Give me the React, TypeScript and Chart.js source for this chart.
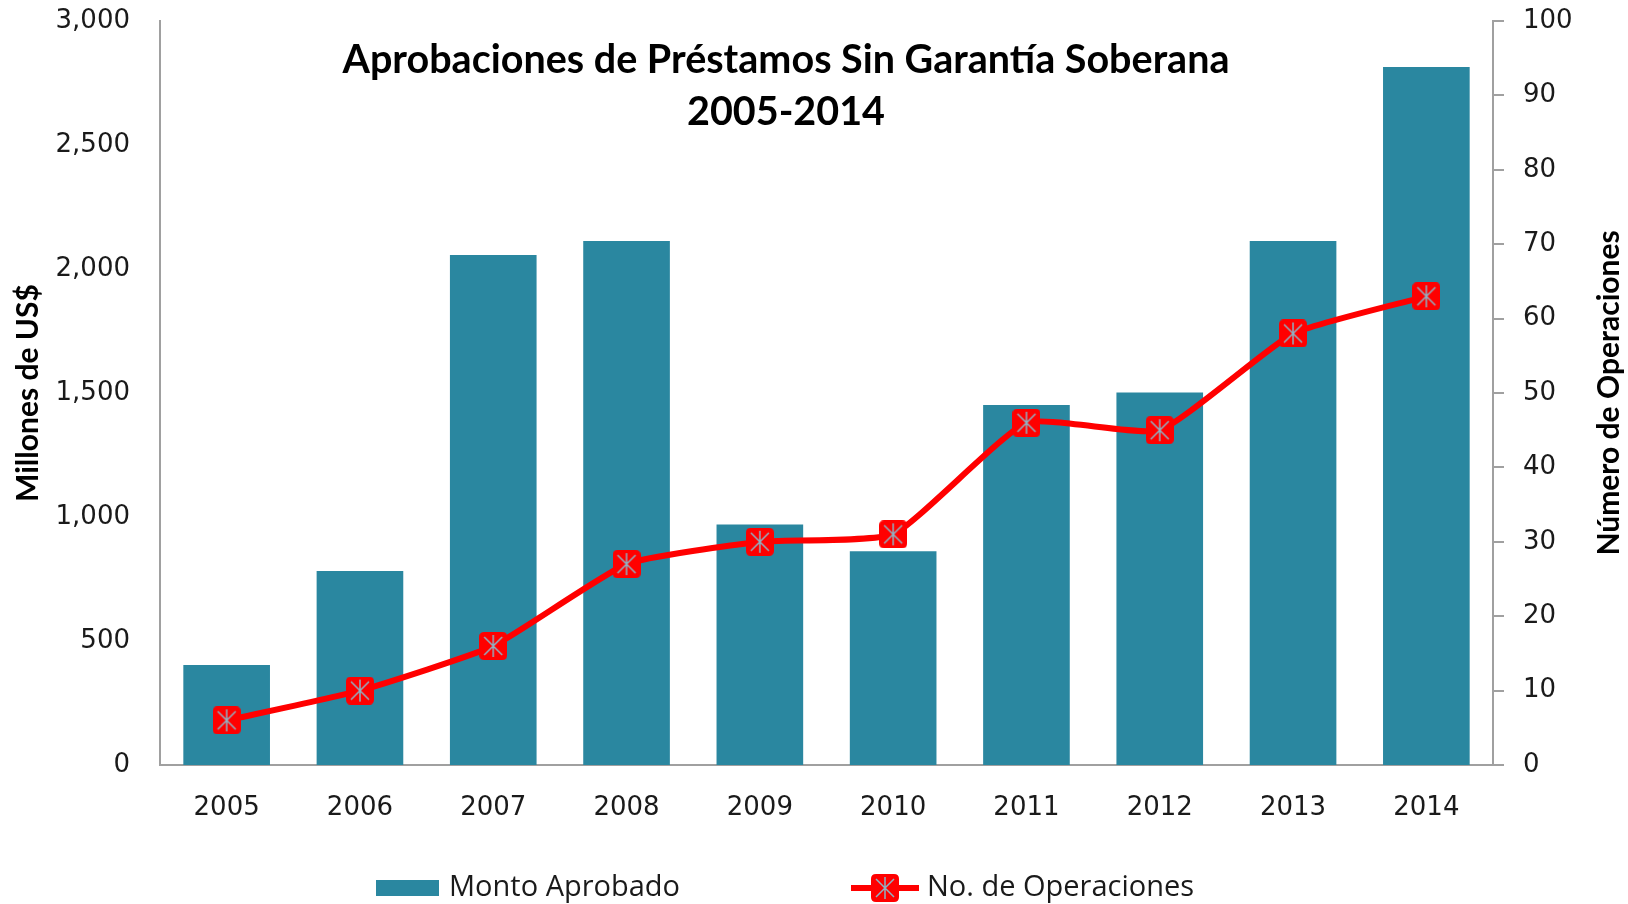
import React, { useEffect, useRef } from "react";
import { Chart, registerables } from "chart.js";

Chart.register(...registerables);

const years = ["2005", "2006", "2007", "2008", "2009", "2010", "2011", "2012", "2013", "2014"];
const montoAprobado = [403, 782, 2056, 2113, 970, 862, 1452, 1502, 2113, 2815];
const numOperaciones = [6, 10, 16, 27, 30, 31, 46, 45, 58, 63];
const titleLines = ["Aprobaciones de Préstamos Sin Garantía Soberana", "2005-2014"];
const leftAxisTitle = "Millones de US$";
const rightAxisTitle = "Número de Operaciones";
const seriesLabels = ["Monto Aprobado", "No. de Operaciones"];

const BAR_COLOR = "#2A87A0";
const LINE_COLOR = "#FF0000";
const AXIS_COLOR = "#A0A0A0";
const TEXT_COLOR = "#1a1a1a";

function makeMarker(): HTMLCanvasElement {
  const s = 28;
  const c = document.createElement("canvas");
  c.width = s;
  c.height = s;
  const g = c.getContext("2d")!;
  const r = 5;
  g.fillStyle = LINE_COLOR;
  g.beginPath();
  g.moveTo(r, 0);
  g.lineTo(s - r, 0);
  g.quadraticCurveTo(s, 0, s, r);
  g.lineTo(s, s - r);
  g.quadraticCurveTo(s, s, s - r, s);
  g.lineTo(r, s);
  g.quadraticCurveTo(0, s, 0, s - r);
  g.lineTo(0, r);
  g.quadraticCurveTo(0, 0, r, 0);
  g.fill();
  g.strokeStyle = "#8FB3C4";
  g.lineWidth = 1.5;
  g.beginPath();
  g.moveTo(s / 2, 3);
  g.lineTo(s / 2, s - 3);
  g.moveTo(5, 5);
  g.lineTo(s - 5, s - 5);
  g.moveTo(s - 5, 5);
  g.lineTo(5, s - 5);
  g.stroke();
  return c;
}

export default function App() {
  const ref = useRef<HTMLCanvasElement>(null);

  useEffect(() => {
    const canvas = ref.current!;
    const marker = makeMarker();

    const overlay = {
      id: "overlay",
      afterDraw(chart: any) {
        const ctx = chart.ctx as CanvasRenderingContext2D;
        const area = chart.chartArea;
        ctx.save();
        // Title
        ctx.fillStyle = "#000";
        ctx.textAlign = "center";
        ctx.textBaseline = "middle";
        ctx.font = "bold 39.5px Lato";
        ctx.fillText(titleLines[0], 786, 60);
        ctx.fillText(titleLines[1], 786, 112);
        // Right axis title
        ctx.save();
        ctx.translate(1609, (area.top + area.bottom) / 2);
        ctx.rotate(-Math.PI / 2);
        ctx.font = "bold 30px Lato";
        ctx.fillText(rightAxisTitle, 0, 0);
        ctx.restore();
        // Legend
        const ly = 888;
        ctx.fillStyle = BAR_COLOR;
        ctx.fillRect(376, ly - 8, 63, 16);
        ctx.fillStyle = TEXT_COLOR;
        ctx.textAlign = "left";
        ctx.font = "29px 'Open Sans'";
        ctx.fillText(seriesLabels[0], 449, ly);
        ctx.strokeStyle = LINE_COLOR;
        ctx.lineWidth = 6;
        ctx.beginPath();
        ctx.moveTo(851, ly);
        ctx.lineTo(919, ly);
        ctx.stroke();
        ctx.drawImage(marker, 885 - 14, ly - 14);
        ctx.fillText(seriesLabels[1], 927, ly);
        ctx.restore();
      },
    };

    const chart = new Chart(canvas, {
      type: "bar",
      data: {
        labels: years,
        datasets: [
          {
            type: "bar",
            label: seriesLabels[0],
            data: montoAprobado,
            backgroundColor: BAR_COLOR,
            borderWidth: 0,
            yAxisID: "y",
            categoryPercentage: 1,
            barPercentage: 0.65,
            order: 2,
          },
          {
            type: "line",
            label: seriesLabels[1],
            data: numOperaciones,
            borderColor: LINE_COLOR,
            borderWidth: 6,
            pointStyle: marker as any,
            pointRadius: 14,
            tension: 0.15,
            yAxisID: "y1",
            order: 1,
          } as any,
        ],
      },
      options: {
        responsive: false,
        animation: false,
        layout: { padding: { top: 21, left: 0, right: 0, bottom: 0 } },
        plugins: {
          legend: { display: false },
          tooltip: { enabled: false },
          title: { display: false },
        },
        scales: {
          x: {
            grid: { display: false, drawTicks: false },
            border: { display: true, color: AXIS_COLOR, width: 2 },
            ticks: {
              color: TEXT_COLOR,
              font: { family: "'DejaVu Sans'", size: 26 },
              padding: 28,
              maxRotation: 0,
            },
            afterFit: (s: any) => {
              s.height = 139;
              s.paddingLeft = 0;
              s.paddingRight = 0;
            },
          },
          y: {
            position: "left",
            min: 0,
            max: 3000,
            grid: { display: false, drawTicks: false },
            border: { display: true, color: AXIS_COLOR, width: 2 },
            ticks: {
              stepSize: 500,
              color: TEXT_COLOR,
              font: { family: "'DejaVu Sans'", size: 26 },
              padding: 30,
            },
            title: {
              display: true,
              text: leftAxisTitle,
              color: "#000",
              font: { family: "Lato", size: 30, weight: "bold" },
              padding: { top: 10, bottom: 0 },
            },
            afterFit: (s: any) => {
              s.width = 160;
              s.paddingTop = 0;
              s.paddingBottom = 0;
            },
          },
          y1: {
            position: "right",
            min: 0,
            max: 100,
            grid: {
              display: true,
              drawOnChartArea: false,
              drawTicks: true,
              tickLength: 11,
              color: AXIS_COLOR,
              lineWidth: 2,
            },
            border: { display: true, color: AXIS_COLOR, width: 2 },
            ticks: {
              stepSize: 10,
              color: TEXT_COLOR,
              font: { family: "'DejaVu Sans'", size: 26 },
              padding: 19,
            },
            afterFit: (s: any) => {
              s.width = 135;
              s.paddingTop = 0;
              s.paddingBottom = 0;
            },
          },
        },
      },
      plugins: [overlay],
    });

    return () => chart.destroy();
  }, []);

  return (
    <div style={{ position: "absolute", left: 0, top: 0, width: 1628, height: 904, background: "#fff" }}>
      <canvas ref={ref} width={1628} height={904} />
    </div>
  );
}
